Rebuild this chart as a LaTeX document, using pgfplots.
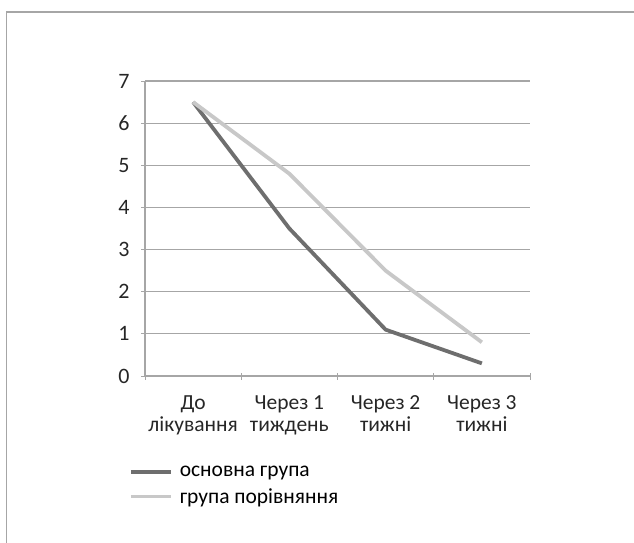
\documentclass[border=0pt]{standalone}
\usepackage{pgfplots}
\pgfplotsset{compat=1.18}
\usepackage{fontspec}
\setmainfont{Carlito}
\definecolor{darkline}{RGB}{110,110,110}
\definecolor{lightline}{RGB}{200,200,200}
\definecolor{gridgray}{RGB}{166,166,166}

\begin{document}
\begin{tikzpicture}
\useasboundingbox (0,0) rectangle (634pt,-543pt);
% frame of the chart area (cropped at right and bottom)
\draw[gridgray, line width=1.5pt] (6.5pt,-543pt) -- (6.5pt,-12pt) -- (634pt,-12pt);

\begin{axis}[
    at={(145pt,-376pt)}, anchor=south west,
    scale only axis,
    width=385pt, height=295pt,
    xmin=-0.5, xmax=3.5,
    ymin=0, ymax=7,
    ytick={0,1,...,7},
    xtick={0,1,2,3},
    xticklabels={До\\лікування, Через 1\\тиждень, Через 2\\тижні, Через 3\\тижні},
    xticklabel style={align=center, font=\fontsize{21.5}{22.5}\selectfont, text=black!85, yshift=-12pt},
    yticklabel style={font=\fontsize{22}{24}\selectfont, text=black!85, xshift=-8pt},
    /pgf/number format/assume math mode=true,
    major x tick style={draw=none},
    minor xtick={-0.5,0.5,1.5,2.5,3.5},
    minor tick length=7pt,
    major tick length=8pt,
    tick align=outside,
    tick style={gridgray, line width=1pt},
    axis x line=bottom, axis y line=left,
    axis line style={-, gridgray, line width=1.2pt},
    ymajorgrids,
    grid style={gridgray, line width=1.2pt},
    legend style={at={(axis description cs:-0.05,-0.292)}, anchor=north west,
                  draw=none, fill=none, font=\fontsize{21.5}{23}\selectfont,
                  row sep=6pt},
    legend cell align=left,
    legend image code/.code={\draw[#1] (0pt,0pt) -- (40pt,0pt);},
]
\addplot[darkline, line width=3.8pt, line join=round] coordinates {(0,6.5) (1,3.5) (2,1.1) (3,0.3)};
\addplot[lightline, line width=3.8pt, line join=round] coordinates {(0,6.5) (1,4.8) (2,2.5) (3,0.8)};
\legend{\hspace*{5pt}основна група, \hspace*{5pt}група порівняння}
\end{axis}
\end{tikzpicture}
\end{document}
